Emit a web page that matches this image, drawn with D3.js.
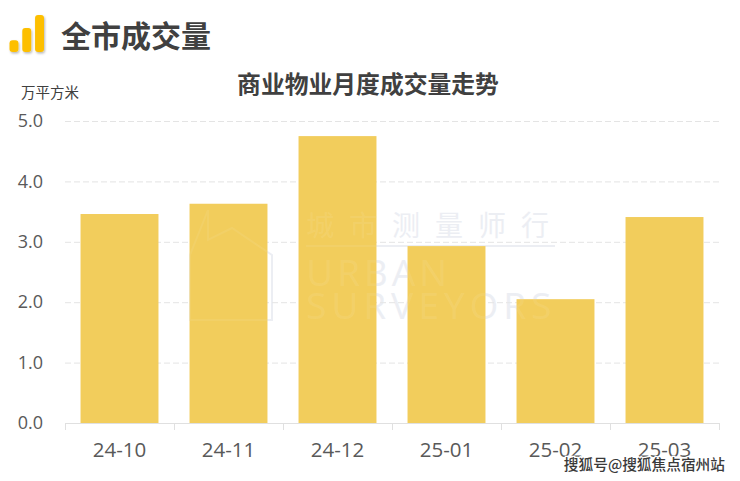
<!DOCTYPE html>
<html><head><meta charset="utf-8">
<script src="https://cdn.jsdelivr.net/npm/d3@7/dist/d3.min.js"></script>
<style>html,body{margin:0;padding:0;background:#fff}svg{display:block}</style>
</head><body><svg id="c" width="740" height="481"></svg>
<script>
const categories = ["24-10","24-11","24-12","25-01","25-02","25-03"];
const values = [3.46,3.63,4.75,2.93,2.05,3.41];
const yTicks = [0,1,2,3,4,5];
const iconLevels = [0.95,1.95,3];
const cjk = '"Noto Sans CJK SC","Noto Sans",sans-serif';
const latin = '"Open Sans","Noto Sans CJK SC",sans-serif';
const svg = d3.select("#c");
const M = {l:65,r:719,t:121,b:423};
const x = d3.scaleBand().domain(categories).range([M.l,M.r]).paddingInner(0.285).paddingOuter(0.1425);
const y = d3.scaleLinear().domain([0,5]).range([M.b,M.t]);

// header icon
const defs = svg.append("defs");
const f = defs.append("filter").attr("id","sh").attr("x","-50%").attr("y","-50%").attr("width","200%").attr("height","200%");
f.append("feDropShadow").attr("dx",1).attr("dy",1.5).attr("stdDeviation",1).attr("flood-color","#000").attr("flood-opacity",0.28);
const iconX = d3.scaleBand().domain(iconLevels).range([9.5,44]).paddingInner(0.3);
const iconY = d3.scaleLinear().domain([0,3]).range([52,15]);
svg.append("g").attr("filter","url(#sh)").selectAll("rect").data(iconLevels).join("rect")
  .attr("x",d=>iconX(d)).attr("width",iconX.bandwidth())
  .attr("y",d=>iconY(d)).attr("height",d=>iconY(0)-iconY(d))
  .attr("rx",3).attr("fill","#fdbf00");
svg.append("text").attr("x",61).attr("y",47).attr("font-family",cjk).attr("font-weight",700).attr("font-size",30).attr("fill","#404040").text("全市成交量");

// watermark shapes
function watermark(g, colour) {
  g.attr("fill",colour);
  g.append("text").attr("x",306).attr("y",236).attr("font-family",cjk).attr("font-size",28).attr("letter-spacing",15).text("城市测量师行");
  g.append("text").attr("x",306).attr("y",286).attr("font-family",latin).attr("font-size",37).attr("letter-spacing",4).text("URBAN");
  g.append("text").attr("x",306).attr("y",319).attr("font-family",latin).attr("font-size",37).attr("letter-spacing",5).text("SURVEYORS");
  g.append("path").attr("d","M190 320V255L208 210V240L232 228L272 255V320Z").attr("fill","none").attr("stroke",colour).attr("stroke-width",2);
  g.append("line").attr("x1",306).attr("x2",555).attr("y1",246).attr("y2",246).attr("stroke",colour).attr("stroke-width",2);
}
watermark(svg.append("g"), "#ebedf3");

// grid
svg.append("g").selectAll("line").data(yTicks.filter(d=>d>0)).join("line")
  .attr("x1",M.l).attr("x2",M.r).attr("y1",d=>y(d)+.5).attr("y2",d=>y(d)+.5)
  .attr("stroke","#e4e4e4").attr("stroke-dasharray","6 3").attr("stroke-width",1);

// bars
svg.append("g").selectAll("rect").data(values).join("rect")
  .attr("x",(d,i)=>x(categories[i])).attr("width",x.bandwidth())
  .attr("y",d=>y(d)).attr("height",d=>y(0)-y(d)).attr("fill","#f2cd5c");

// faint trace of the watermark showing through the bars
watermark(svg.append("g").attr("opacity",0.07), "#fff");

// axes
const gx = svg.append("g").attr("transform",`translate(0,${M.b})`)
  .call(d3.axisBottom(x).tickSize(0).tickPadding(19));
gx.select(".domain").remove();
svg.append("line").attr("x1",M.l).attr("x2",M.r).attr("y1",M.b+.5).attr("y2",M.b+.5).attr("stroke","#e0e0e0");
const step = x.step();
svg.append("g").selectAll("line").data(d3.range(categories.length+1)).join("line")
  .attr("x1",i=>M.l+i*step+.5).attr("x2",i=>M.l+i*step+.5).attr("y1",M.b).attr("y2",M.b+7).attr("stroke","#e0e0e0");
gx.selectAll("text").attr("font-family",latin).attr("font-size",20.5).attr("fill","#595959");

const gy = svg.append("g").attr("transform",`translate(${M.l},0)`)
  .call(d3.axisLeft(y).tickValues(yTicks).tickFormat(d3.format(".1f")).tickSize(0).tickPadding(22));
gy.select(".domain").remove();
gy.selectAll("text").attr("font-family",latin).attr("font-size",18).attr("fill","#595959");

svg.append("text").attr("x",368).attr("y",93).attr("text-anchor","middle").attr("font-family",cjk).attr("font-weight",700).attr("font-size",23.8).attr("fill","#404040").text("商业物业月度成交量走势");
svg.append("text").attr("x",21).attr("y",98).attr("font-family",cjk).attr("font-size",14.5).attr("fill","#404040").text("万平方米");

// credit
svg.append("text").attr("x",725).attr("y",470).attr("text-anchor","end").attr("font-family",cjk).attr("font-size",14.7).attr("font-weight",500)
  .attr("fill","#3a3a3a").attr("stroke","#fff").attr("stroke-width",2.5).attr("paint-order","stroke").text("搜狐号@搜狐焦点宿州站");
</script></body></html>
